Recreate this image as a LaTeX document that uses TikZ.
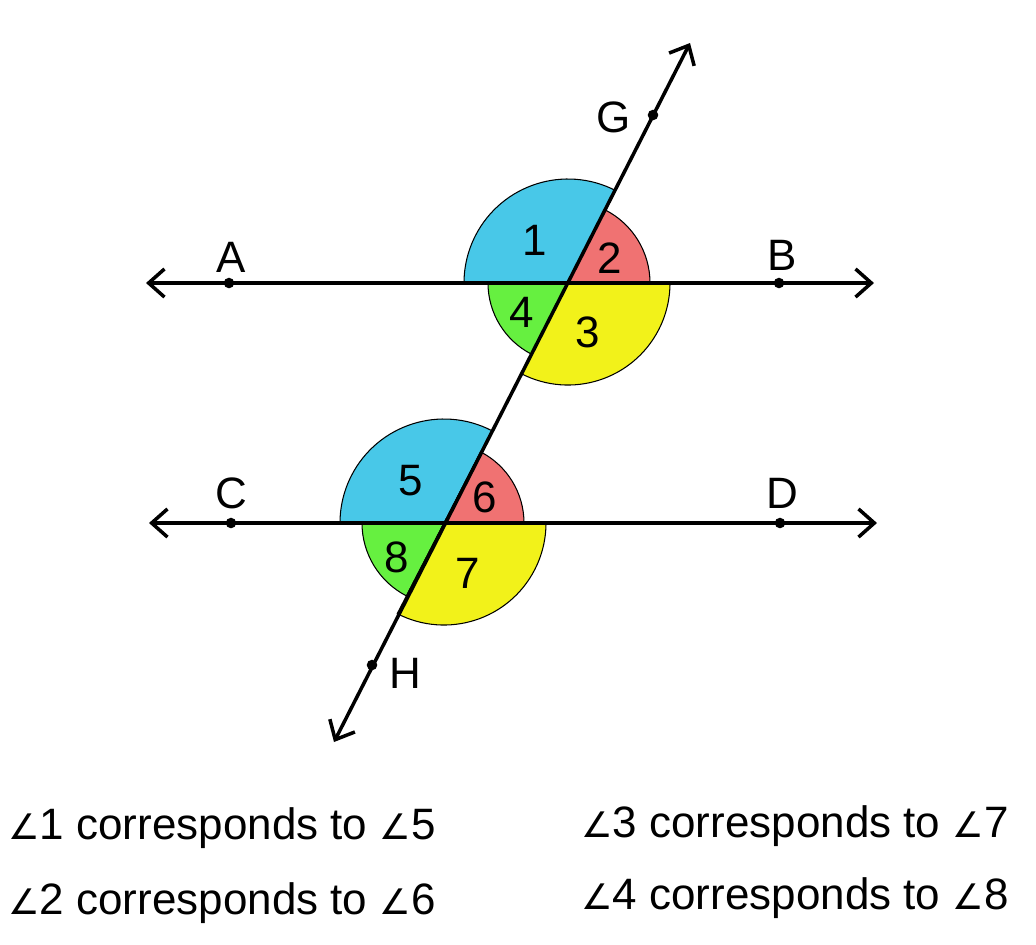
\documentclass[tikz,border=0pt]{standalone}
\usepackage{fontspec}
\setmainfont{Liberation Sans}
\newfontfamily\symf{DejaVu Sans}[Scale=0.8]
\usetikzlibrary{arrows.meta}
\definecolor{cb}{HTML}{48C8E8}
\definecolor{cr}{HTML}{F07272}
\definecolor{cg}{HTML}{66F040}
\definecolor{cy}{HTML}{F2F21A}
\tikzset{
  ln/.style={line width=1pt,{Straight Barb[length=4.5pt,width=8pt]}-{Straight Barb[length=4.5pt,width=8pt]}},
  sec/.style={draw=black,line width=0.3pt},
  pt/.style={circle,fill=black,inner sep=0pt,minimum size=3pt},
  lab/.style={font=\fontsize{12.5pt}{14pt}\selectfont},
  txt/.style={font=\fontsize{12.5pt}{14pt}\selectfont,anchor=west}
}
\newcommand{\ang}{{\symf\char"2220}}
\begin{document}
\begin{tikzpicture}[x=0.01cm,y=-0.01cm]
\useasboundingbox (0,0) rectangle (1036,944);
\coordinate (P) at (568,283);
\coordinate (Q) at (444,523);
% sectors at P
\fill[cb,sec] (P) -- ++(-62.7:104) arc[start angle=-62.7,end angle=-180,radius=104] -- cycle;
\fill[cr,sec] (P) -- ++(0:82) arc[start angle=0,end angle=-62.7,radius=82] -- cycle;
\fill[cg,sec] (P) -- ++(-180:80) arc[start angle=-180,end angle=-242.7,radius=80] -- cycle;
\fill[cy,sec] (P) -- ++(-242.7:102) arc[start angle=-242.7,end angle=-360,radius=102] -- cycle;
% sectors at Q
\fill[cb,sec] (Q) -- ++(-62.7:104) arc[start angle=-62.7,end angle=-180,radius=104] -- cycle;
\fill[cr,sec] (Q) -- ++(0:80) arc[start angle=0,end angle=-62.7,radius=80] -- cycle;
\fill[cg,sec] (Q) -- ++(-180:82) arc[start angle=-180,end angle=-242.7,radius=82] -- cycle;
\fill[cy,sec] (Q) -- ++(-242.7:102) arc[start angle=-242.7,end angle=-360,radius=102] -- cycle;
% lines
\coordinate (ABl) at (146,283); \coordinate (ABr) at (874,283);
\coordinate (CDl) at (149,523); \coordinate (CDr) at (877,523);
\coordinate (Tt) at (690,43); \coordinate (Tb) at (334,742);
\draw[ln] (ABl) -- (ABr);
\draw[ln] (CDl) -- (CDr);
\draw[ln] (Tb) -- (Tt);
\node[pt] (A) at (229,283) {}; \node[pt] (B) at (779,283) {};
\node[pt] (C) at (231,523) {}; \node[pt] (D) at (780,523) {};
\node[pt] (G) at (653,115) {}; \node[pt] (H) at (372,665) {};
\node[lab] (lA) at (231,257) {A}; \node[lab] (lB) at (782,255) {B};
\node[lab] (lC) at (231,493) {C}; \node[lab] (lD) at (782,493) {D};
\node[lab] (lG) at (614,117) {G}; \node[lab] (lH) at (405,673) {H};
\node[lab] (n1) at (535,240) {1}; \node[lab] (n2) at (610,258) {2};
\node[lab] (n4) at (522,312) {4}; \node[lab] (n3) at (588,332) {3};
\node[lab] (n5) at (411,481) {5}; \node[lab] (n6) at (485,497) {6};
\node[lab] (n8) at (397,557) {8}; \node[lab] (n7) at (468,573) {7};
\node[txt] (t1) at (-4,828) {\ang1 corresponds to \ang5};
\node[txt] (t2) at (-4,903) {\ang2 corresponds to \ang6};
\node[txt] (t3) at (569,826) {\ang3 corresponds to \ang7};
\node[txt] (t4) at (569,898) {\ang4 corresponds to \ang8};
\end{tikzpicture}
\end{document}
